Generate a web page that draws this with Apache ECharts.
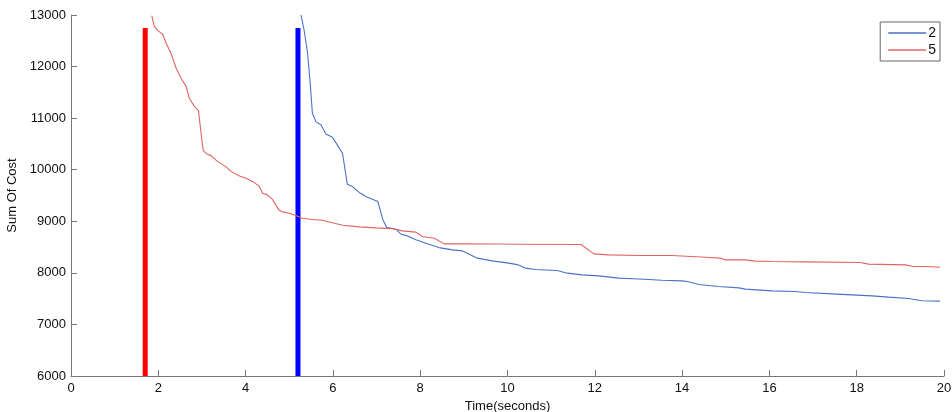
<!DOCTYPE html>
<html>
<head>
<meta charset="utf-8">
<script src="https://cdn.jsdelivr.net/npm/echarts@6/dist/echarts.min.js"></script>
<style>html,body{margin:0;padding:0;background:#fff}#c{width:952px;height:412px}</style>
</head>
<body>
<div id="c"></div>
<script>
// Series "2" (blue): [time, cost]
const series2 = [
  [5.27,13000],[5.34,12709],[5.42,12258],[5.48,11676],[5.53,11095],[5.61,10933],[5.73,10868],
  [5.84,10694],[5.99,10630],[6.10,10481],[6.22,10320],[6.33,9720],[6.45,9673],[6.60,9560],
  [6.79,9467],[7.03,9382],[7.14,9040],[7.23,8885],[7.44,8847],[7.56,8750],[7.71,8717],
  [7.90,8640],[8.13,8575],[8.43,8490],[8.74,8446],[8.97,8426],[9.31,8285],[9.65,8233],
  [10.03,8188],[10.22,8160],[10.42,8091],[10.64,8064],[11.14,8045],[11.37,7994],[11.71,7961],
  [12.09,7942],[12.55,7897],[13.01,7880],[13.54,7858],[14.00,7845],[14.15,7826],[14.38,7774],
  [14.84,7735],[15.30,7709],[15.45,7684],[16.06,7651],[16.59,7638],[16.82,7619],[17.43,7593],
  [18.35,7554],[18.73,7529],[19.19,7502],[19.49,7458],[19.91,7452]
];
// Series "5" (red): [time, cost]
const series5 = [
  [1.85,12987],[1.91,12773],[1.99,12696],[2.10,12626],[2.18,12452],[2.29,12258],[2.41,11967],
  [2.52,11773],[2.64,11611],[2.71,11386],[2.83,11223],[2.92,11146],[2.98,10707],[3.03,10370],
  [3.11,10306],[3.21,10273],[3.36,10157],[3.55,10060],[3.67,9963],[3.86,9880],[4.01,9835],
  [4.20,9750],[4.31,9680],[4.39,9544],[4.50,9512],[4.62,9420],[4.76,9221],[4.85,9182],
  [5.00,9157],[5.15,9111],[5.30,9060],[5.53,9035],[5.76,9020],[5.92,8985],[6.22,8924],
  [6.60,8891],[6.98,8872],[7.36,8858],[7.59,8814],[7.90,8789],[8.05,8704],[8.32,8672],
  [8.55,8562],[8.89,8562],[9.81,8560],[10.26,8556],[11.68,8549],[11.98,8368],[12.32,8349],
  [13.01,8336],[13.77,8336],[14.54,8304],[14.88,8285],[14.99,8252],[15.45,8252],[15.68,8227],
  [16.06,8219],[16.82,8213],[18.08,8200],[18.27,8169],[19.11,8155],[19.30,8122],[19.57,8122],
  [19.91,8110]
];
// Vertical start markers: [time, bottom, top]
const redMarker = [1.70, 6000, 12750];
const blueMarker = [5.20, 6000, 12750];
const xTicks = [0,2,4,6,8,10,12,14,16,18,20];
const yTicks = [6000,7000,8000,9000,10000,11000,12000,13000];
const legendNames = ['2','5'];

const font = 'Liberation Sans, Arial, Helvetica, sans-serif';
const chart = echarts.init(document.getElementById('c'), null, {renderer:'canvas'});
chart.setOption({
  animation:false,
  backgroundColor:'#fff',
  grid:{left:71,right:8,top:15,bottom:36,containLabel:false,outerBoundsMode:'none'},
  legend:{
    data:legendNames,
    orient:'vertical',
    right:12, top:22,
    borderColor:'#666', borderWidth:1, borderRadius:0,
    padding:[4,4,4,8],
    itemGap:3,
    itemWidth:38, itemHeight:1.5,
    icon:'rect',
    textStyle:{fontFamily:font,fontSize:14,color:'#111',padding:[0,0,0,-3]}
  },
  xAxis:{
    type:'value', min:xTicks[0], max:xTicks[xTicks.length-1], interval:2,
    name:'Time(seconds)', nameLocation:'middle', nameGap:20,
    nameTextStyle:{fontFamily:font,fontSize:13,color:'#111'},
    axisLine:{lineStyle:{color:'#777',width:1}},
    axisTick:{inside:true,length:6,lineStyle:{color:'#777'}},
    axisLabel:{fontFamily:font,fontSize:13,color:'#111',margin:6,formatter:v=>String(v)},
    splitLine:{show:false}
  },
  yAxis:{
    type:'value', min:yTicks[0], max:yTicks[yTicks.length-1], interval:1000,
    name:'Sum Of Cost', nameLocation:'middle', nameGap:46,
    nameTextStyle:{fontFamily:font,fontSize:13,color:'#111'},
    axisLine:{show:true,lineStyle:{color:'#777',width:1}},
    axisTick:{show:true,inside:true,length:6,lineStyle:{color:'#777'}},
    axisLabel:{fontFamily:font,fontSize:13,color:'#111',margin:5,formatter:v=>String(v)},
    splitLine:{show:false}
  },
  series:[
    {name:'redMarker',type:'line',data:[[redMarker[0],redMarker[1]],[redMarker[0],redMarker[2]]],
     showSymbol:false,lineStyle:{color:'#ff0000',width:5,cap:'butt'},silent:true,z:3},
    {name:'blueMarker',type:'line',data:[[blueMarker[0],blueMarker[1]],[blueMarker[0],blueMarker[2]]],
     showSymbol:false,lineStyle:{color:'#0000ff',width:5,cap:'butt'},silent:true,z:3},
    {name:'2',type:'line',data:series2,showSymbol:false,color:'#4a72c8',
     lineStyle:{color:'#4a72c8',width:1.1},z:4},
    {name:'5',type:'line',data:series5,showSymbol:false,color:'#e06464',
     lineStyle:{color:'#e06464',width:1.1},z:4}
  ]
});
</script>
</body>
</html>
